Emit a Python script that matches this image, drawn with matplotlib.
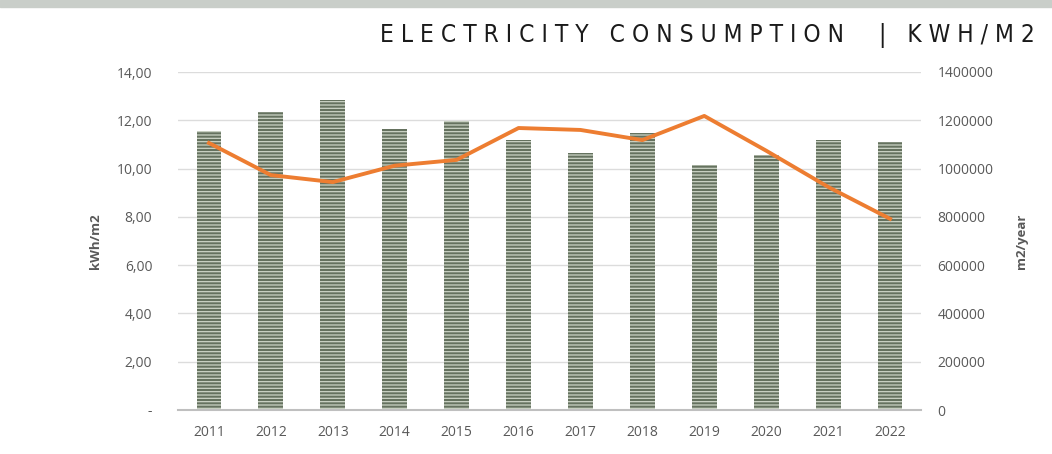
import matplotlib.pyplot as plt
import matplotlib.patches as mpatches
import numpy as np

plt.rcParams['font.family'] = ['Open Sans', 'DejaVu Sans']
plt.rcParams['hatch.linewidth'] = 0.9

years = ['2011', '2012', '2013', '2014', '2015', '2016',
         '2017', '2018', '2019', '2020', '2021', '2022']
# bars: kWh/m2 (left axis)
kwh_m2 = [11.55, 12.35, 12.82, 11.65, 11.95, 11.18,
          10.64, 11.47, 10.15, 10.55, 11.20, 11.08]
# line: m2/year (right axis)
m2_year = [1106000, 973000, 944000, 1012000, 1036000, 1168000,
           1160000, 1118000, 1218000, 1074000, 924000, 792000]
left_ticks = [0, 2, 4, 6, 8, 10, 12, 14]
left_labels = ['-', '2,00', '4,00', '6,00', '8,00', '10,00', '12,00', '14,00']
right_ticks = [0, 200000, 400000, 600000, 800000, 1000000, 1200000, 1400000]

fig = plt.figure(figsize=(10.52, 4.54), dpi=100)
fig.patches.append(mpatches.Rectangle((0, 1 - 7 / 454), 1, 7 / 454,
                                      transform=fig.transFigure,
                                      color='#c9cec9', zorder=0))

ax = fig.add_axes([178 / 1052, 1 - 410 / 454, (921 - 178) / 1052, (410 - 72) / 454])
x = np.arange(len(years))
ax.bar(x, kwh_m2, width=0.4, color='#65725f', edgecolor='#ccd4c6',
       hatch='-----', linewidth=0, zorder=2)
ax.set_xlim(-0.5, len(years) - 0.5)
ax.set_ylim(0, 14)
ax.set_yticks(left_ticks)
ax.set_yticklabels(left_labels)
ax.set_xticks(x)
ax.set_xticklabels(years)
ax.grid(axis='y', color='#dcdcdc', linewidth=1, zorder=0)
for s in ['top', 'right', 'left']:
    ax.spines[s].set_visible(False)
ax.spines['bottom'].set_color('#bfbfbf')
ax.spines['bottom'].set_linewidth(1.5)
ax.tick_params(length=0, colors='#595959', labelsize=10)
ax.tick_params(axis='y', pad=18.5)
ax.tick_params(axis='x', pad=11)
ax.set_ylabel('kWh/m2', fontsize=9.5, fontweight='bold', color='#595959')
ax.yaxis.set_label_coords(-0.102, 0.5)

ax2 = ax.twinx()
ax2.plot(x, m2_year, color='#ed7d31', linewidth=2.8, solid_joinstyle='round', zorder=3)
ax2.set_ylim(0, 1400000)
ax2.set_yticks(right_ticks)
ax2.set_yticklabels([str(v) for v in right_ticks])
for s in ['top', 'right', 'left', 'bottom']:
    ax2.spines[s].set_visible(False)
ax2.tick_params(length=0, colors='#595959', labelsize=10, pad=12)
ax2.set_ylabel('m2/year', fontsize=9.5, fontweight='bold', color='#595959')
ax2.yaxis.set_label_coords(1.1265, 0.5)

fig.text(1035 / 1052, 1 - 35 / 454,
         'E L E C T R I C I T Y   C O N S U M P T I O N     |   K W H / M 2',
         ha='right', va='center', fontsize=17.6, family=['DejaVu Sans'],
         fontstretch='condensed', fontweight='light', color='#1a1a1a')

fig.savefig('out.png', dpi=100)
